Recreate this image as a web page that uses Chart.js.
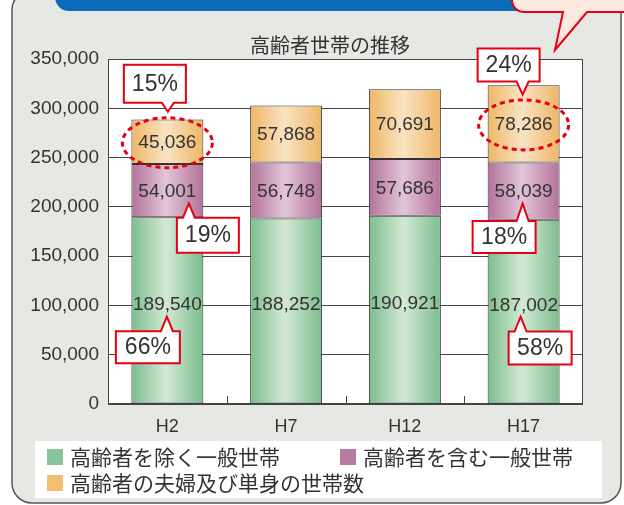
<!DOCTYPE html>
<html>
<head>
<meta charset="utf-8">
<script src="https://cdn.jsdelivr.net/npm/chart.js@4"></script>
<style>
  html, body { margin: 0; padding: 0; background: #fff; }
  canvas { display: block; }
</style>
</head>
<body>
<canvas id="grafico-setai" width="624" height="505"></canvas>
<script>
// datos
var years = ['H2', 'H7', 'H12', 'H17'];
var chartTitle = '高齢者世帯の推移';
var seriesNames = ['高齢者を除く一般世帯', '高齢者を含む一般世帯', '高齢者の夫婦及び単身の世帯数'];
var exclElderly = [189540, 188252, 190921, 187002];
var inclElderly = [54001, 56748, 57686, 58039];
var elderlyOnly = [45036, 57868, 70691, 78286];
var yTicks = [0, 50000, 100000, 150000, 200000, 250000, 300000, 350000];
var shareH2 = [66, 19, 15];
var shareH17 = [58, 18, 24];

var FONT = "'Liberation Sans', 'Noto Sans CJK JP', sans-serif";
var JP = "'Noto Sans CJK JP', sans-serif";
var BAR_PCT = 0.606;
var RED = '#e60012';

function barGradient(edge, mid) {
    return function (c) {
        var ch = c.chart;
        var a = ch.chartArea;
        if (!a || !ch.scales.x) return edge;
        var x = ch.scales.x.getPixelForValue(c.dataIndex);
        var half = (a.right - a.left) / years.length * BAR_PCT / 2;
        var g = ch.ctx.createLinearGradient(x - half, 0, x + half, 0);
        g.addColorStop(0, edge);
        g.addColorStop(0.48, mid);
        g.addColorStop(1, edge);
        return g;
    };
}

// callouts (offsets desde la etiqueta del segmento)
var callouts = [
    { ds: 2, i: 0, text: shareH2[2] + '%', bx: -12.5, by: -58, bw: 62, bh: 38, tx: 0.5, ty: -30, ring: true },
    { ds: 1, i: 0, text: shareH2[1] + '%', bx: 40.5, by: 44.6, bw: 62, bh: 35, tx: 21.5, ty: 13 },
    { ds: 0, i: 0, text: shareH2[0] + '%', bx: -19.5, by: 43.8, bw: 64, bh: 32, tx: -0.5, ty: 13.3 },
    { ds: 2, i: 3, text: shareH17[2] + '%', bx: -15, by: -58.8, bw: 62, bh: 33, tx: -1, ty: -29.3, ring: true },
    { ds: 1, i: 3, text: shareH17[1] + '%', bx: -19.5, by: 46, bw: 63, bh: 32, tx: -1, ty: 12.6 },
    { ds: 0, i: 3, text: shareH17[0] + '%', bx: 16.5, by: 43.5, bw: 63, bh: 33, tx: -3, ty: 12 }
];
var labelShift = [-7, 0, 0];
var legendColors = ['#86c597', '#b97b9f', '#f2bf72'];
var legendPos = [[47, 449], [340, 449], [47, 475]];

function labelPoint(chart, ds, i) {
    var el = chart.getDatasetMeta(ds).data[i];
    return { x: el.x, y: (el.y + el.base) / 2 + labelShift[ds] };
}

function roundRect(ctx, x, y, w, h, r) {
    ctx.beginPath();
    ctx.moveTo(x + r, y);
    ctx.lineTo(x + w - r, y);
    ctx.arcTo(x + w, y, x + w, y + r, r);
    ctx.lineTo(x + w, y + h - r);
    ctx.arcTo(x + w, y + h, x + w - r, y + h, r);
    ctx.lineTo(x + r, y + h);
    ctx.arcTo(x, y + h, x, y + h - r, r);
    ctx.lineTo(x, y + r);
    ctx.arcTo(x, y, x + r, y, r);
    ctx.closePath();
}

var deco = {
    id: 'deco',
    beforeDraw: function (chart) {
        var ctx = chart.ctx, a = chart.chartArea;
        ctx.save();
        ctx.fillStyle = '#fff';
        ctx.fillRect(0, 0, chart.width, chart.height);
        // tarjeta
        roundRect(ctx, 12, -10, 609, 513, 20);
        ctx.fillStyle = '#e6e8e3';
        ctx.fill();
        ctx.lineWidth = 1.5;
        ctx.strokeStyle = '#555';
        ctx.stroke();
        // cabecera azul
        roundRect(ctx, 55, -30, 520, 41, 14);
        ctx.fillStyle = '#0a6cb8';
        ctx.fill();
        // globo
        ctx.beginPath();
        ctx.moveTo(512, -20);
        ctx.lineTo(512, 0);
        ctx.arcTo(512, 12, 524, 12, 12);
        ctx.lineTo(563, 12);
        ctx.lineTo(555, 50);
        ctx.lineTo(587, 12);
        ctx.lineTo(640, 12);
        ctx.lineTo(640, -20);
        ctx.closePath();
        ctx.fillStyle = '#fde9df';
        ctx.fill();
        ctx.lineWidth = 2;
        ctx.strokeStyle = RED;
        ctx.stroke();
        // area del grafico
        ctx.fillStyle = '#fff';
        ctx.fillRect(a.left, a.top, a.right - a.left, a.bottom - a.top);
        // caja leyenda
        ctx.fillRect(35, 441, 567, 57);
        // titulo
        ctx.fillStyle = '#333';
        ctx.font = '20px ' + JP;
        ctx.textAlign = 'center';
        ctx.textBaseline = 'middle';
        ctx.fillText(chartTitle, 330, 45);
        ctx.restore();
    },
    beforeDatasetsDraw: function (chart) {
        var ctx = chart.ctx, a = chart.chartArea, xs = chart.scales.x;
        ctx.save();
        ctx.strokeStyle = '#444';
        ctx.lineWidth = 1;
        ctx.strokeRect(Math.round(a.left) + 0.5, Math.round(a.top) + 0.5,
            Math.round(a.right - a.left) - 1, Math.round(a.bottom - a.top) - 1);
        ctx.beginPath();
        for (var i = 0; i < years.length - 1; i++) {
            var x = Math.round(xs.getPixelForValue(i + 0.5)) + 0.5;
            ctx.moveTo(x, a.bottom);
            ctx.lineTo(x, a.bottom - 8);
        }
        ctx.stroke();
        ctx.restore();
    },
    afterDatasetsDraw: function (chart) {
        var ctx = chart.ctx;
        ctx.save();
        ctx.fillStyle = '#333';
        ctx.font = '19px ' + FONT;
        ctx.textAlign = 'center';
        ctx.textBaseline = 'middle';
        chart.data.datasets.forEach(function (d, ds) {
            d.data.forEach(function (v, i) {
                var p = labelPoint(chart, ds, i);
                ctx.fillText(v.toLocaleString('en-US'), p.x, p.y + 1);
            });
        });
        callouts.forEach(function (c) {
            var p = labelPoint(chart, c.ds, c.i);
            if (c.ring) {
                ctx.save();
                ctx.beginPath();
                ctx.ellipse(p.x, p.y + 1, 45, 25, 0, 0, Math.PI * 2);
                ctx.setLineDash([5, 4]);
                ctx.lineWidth = 3;
                ctx.strokeStyle = RED;
                ctx.stroke();
                ctx.restore();
            }
            var cx = p.x + c.bx, cy = p.y + c.by;
            var l = cx - c.bw / 2, r = cx + c.bw / 2, t = cy - c.bh / 2, b = cy + c.bh / 2;
            var tx = p.x + c.tx, ty = p.y + c.ty;
            ctx.beginPath();
            ctx.moveTo(l, t);
            if (ty < t) {
                ctx.lineTo(tx - 6, t);
                ctx.lineTo(tx, ty);
                ctx.lineTo(tx + 6, t);
            }
            ctx.lineTo(r, t);
            ctx.lineTo(r, b);
            if (ty > b) {
                ctx.lineTo(tx + 6, b);
                ctx.lineTo(tx, ty);
                ctx.lineTo(tx - 6, b);
            }
            ctx.lineTo(l, b);
            ctx.closePath();
            ctx.fillStyle = '#fff';
            ctx.fill();
            ctx.lineWidth = 2;
            ctx.strokeStyle = RED;
            ctx.stroke();
            ctx.fillStyle = '#333';
            ctx.font = '23px ' + FONT;
            ctx.fillText(c.text, cx, cy + 1);
        });
        ctx.restore();
    },
    afterDraw: function (chart) {
        var ctx = chart.ctx;
        ctx.save();
        ctx.font = '21px ' + JP;
        ctx.textBaseline = 'middle';
        seriesNames.forEach(function (name, k) {
            var x = legendPos[k][0], y = legendPos[k][1];
            ctx.fillStyle = legendColors[k];
            ctx.fillRect(x, y, 16, 16);
            ctx.fillStyle = '#333';
            ctx.fillText(name, x + 23, y + 8);
        });
        ctx.restore();
    }
};

var ctx = document.getElementById('grafico-setai');
var myChart = new Chart(ctx, {
    type: 'bar',
    data: {
        labels: years,
        datasets: [{
            label: seriesNames[0],
            data: exclElderly,
            backgroundColor: barGradient('#7dbd8e', '#d3e9d5')
        }, {
            label: seriesNames[1],
            data: inclElderly,
            backgroundColor: barGradient('#b3729a', '#e2c6d8')
        }, {
            label: seriesNames[2],
            data: elderlyOnly,
            backgroundColor: barGradient('#eeb766', '#fae3c3')
        }]
    },
    options: {
        responsive: false,
        animation: false,
        devicePixelRatio: 1,
        datasets: {
            bar: {
                barPercentage: 1,
                categoryPercentage: BAR_PCT,
                borderColor: '#333',
                borderWidth: 1,
                borderSkipped: false
            }
        },
        layout: { padding: { left: 0, top: 59, right: 41, bottom: 0 } },
        plugins: {
            legend: { display: false },
            tooltip: { enabled: false },
            title: { display: false }
        },
        scales: {
            x: {
                stacked: true,
                grid: { display: false },
                border: { display: false },
                ticks: { color: '#333', font: { family: FONT, size: 18 }, padding: 4 },
                afterFit: function (s) { s.height = 101; }
            },
            y: {
                stacked: true,
                min: yTicks[0],
                max: yTicks[yTicks.length - 1],
                afterBuildTicks: function (s) {
                    s.ticks = yTicks.map(function (v) { return { value: v }; });
                },
                grid: { color: '#444', drawTicks: false },
                border: { display: false },
                ticks: {
                    color: '#333',
                    font: { family: FONT, size: 19 },
                    padding: 9,
                    callback: function (v) { return v.toLocaleString('en-US'); }
                },
                afterFit: function (s) { s.width = 108; }
            }
        }
    },
    plugins: [deco]
});
</script>
</body>
</html>
